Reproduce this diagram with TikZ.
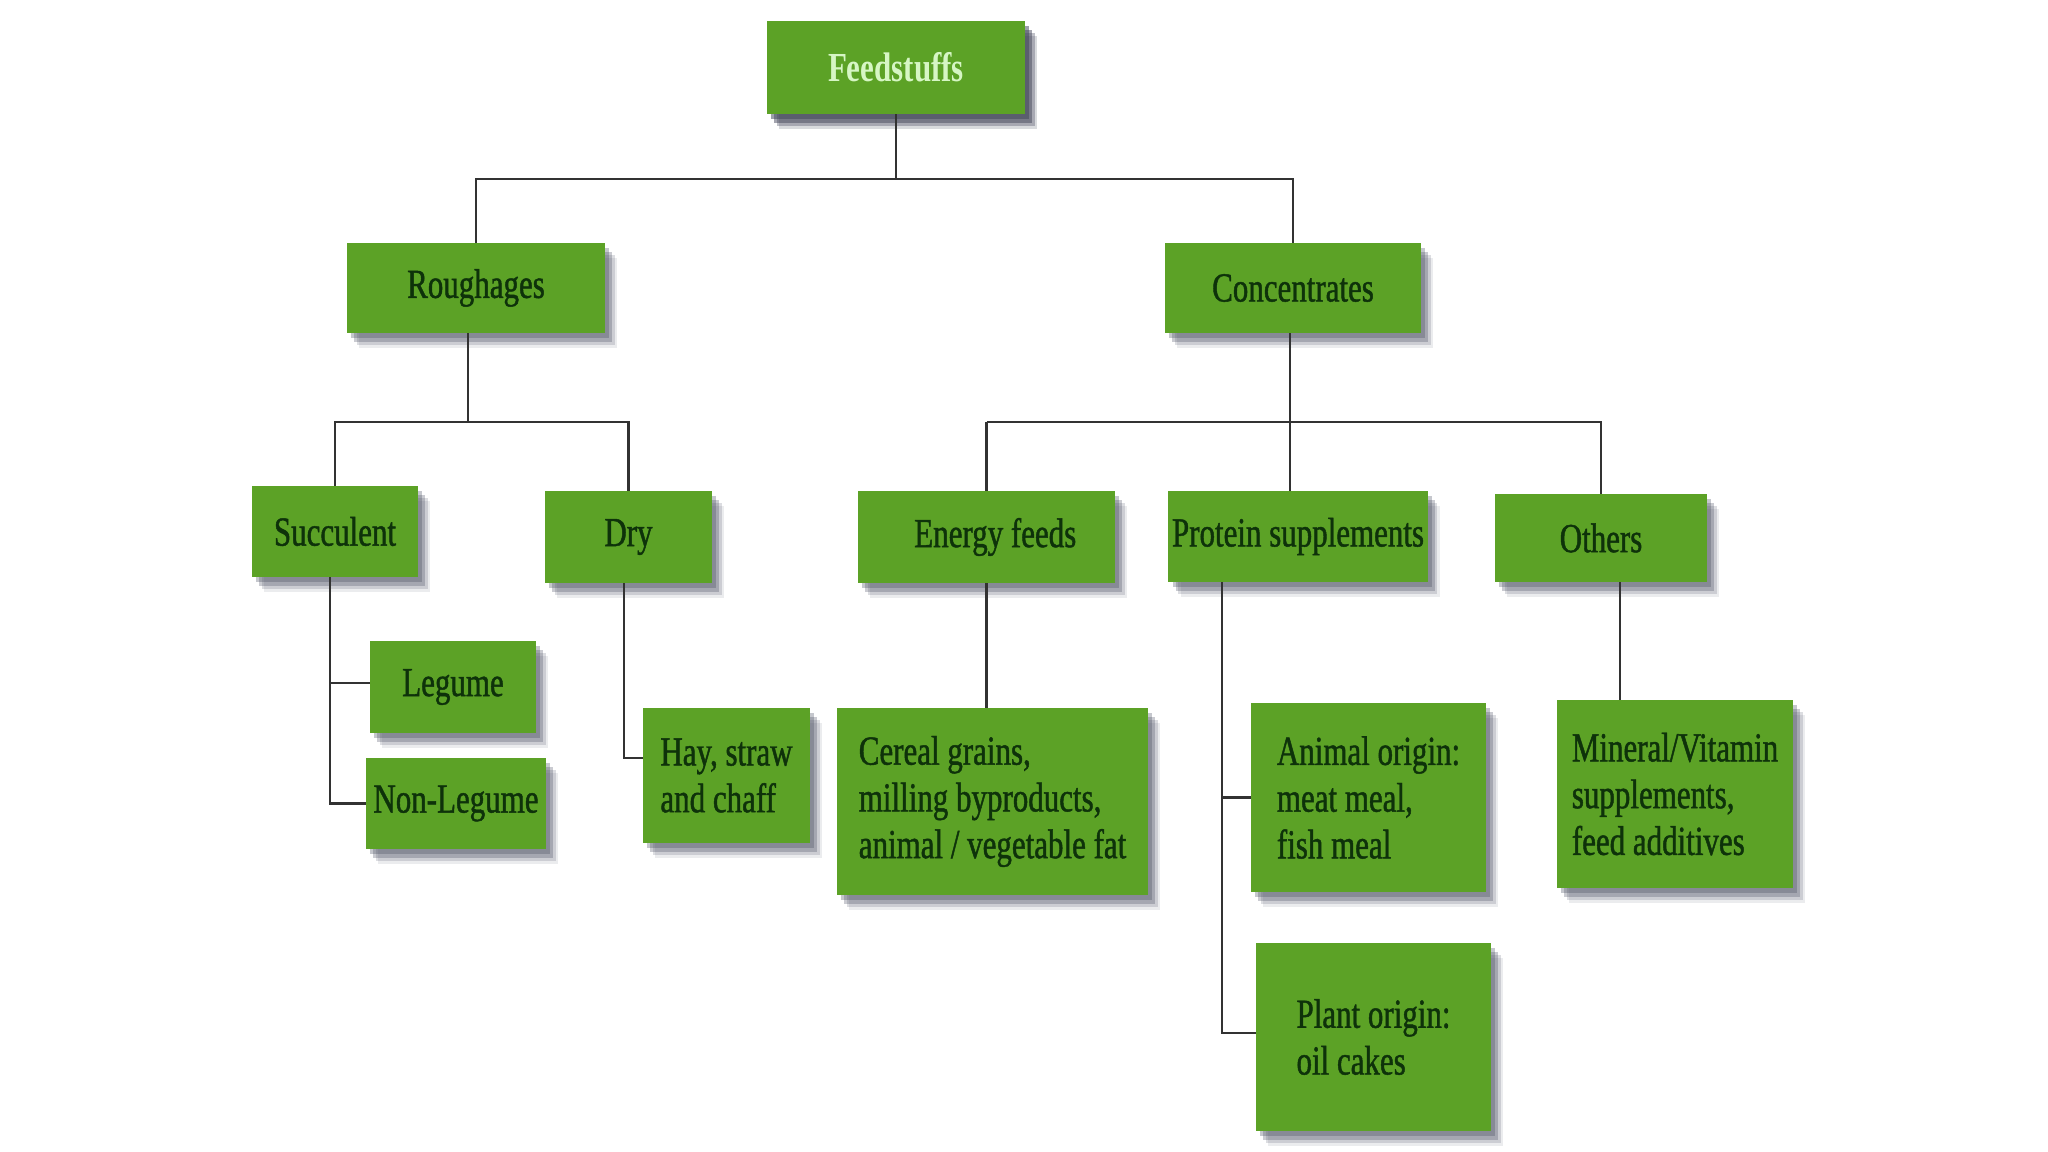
\documentclass[tikz,border=0pt]{standalone}
\usepackage{fontspec}
\newfontfamily\boxfont[FakeStretch=0.75,FakeBold=1.1]{Liberation Serif}
\newfontfamily\titlefont[FakeStretch=0.75]{Liberation Serif Bold}
\usetikzlibrary{shadows}
\definecolor{boxgreen}{RGB}{92,162,38}
\definecolor{txtgreen}{RGB}{14,50,10}
\definecolor{titletxt}{RGB}{214,246,196}
\definecolor{shadowc}{RGB}{66,70,90}
\definecolor{linec}{RGB}{50,50,50}
\tikzset{
  box/.style={fill=boxgreen, draw=none, inner sep=2pt, text=txtgreen,
    font=\boxfont\fontsize{23.5}{26.6}\selectfont, align=left,
    drop shadow={shadow xshift=2.5pt,shadow yshift=-3pt,fill=shadowc,opacity=.3},
    drop shadow={shadow xshift=4pt,shadow yshift=-5pt,fill=shadowc,opacity=.28},
    drop shadow={shadow xshift=5.5pt,shadow yshift=-7pt,fill=shadowc,opacity=.18},
    drop shadow={shadow xshift=7pt,shadow yshift=-8.5pt,fill=shadowc,opacity=.1}},
  titlebox/.style={box, text=titletxt, font=\titlefont\fontsize{23.5}{26.6}\selectfont},
  conn/.style={draw=linec, line width=1.4pt}
}
\newcommand\gbox[7][]{\node[box,#1, minimum width={(#5-#3)*0.02cm}, minimum height={(#6-#4)*0.02cm}] (#2) at ({(#3+#5)/2},{(#4+#6)/2}) {#7};}
\begin{document}
\begin{tikzpicture}[x=0.02cm, y=-0.02cm]
\path[use as bounding box, fill=white] (0,0) rectangle (2048,1152);

% boxes
\gbox[titlebox]{feed}{767}{21}{1025}{114}{Feedstuffs}
\gbox{rough}{347}{243}{605}{333}{Roughages}
\gbox{conc}{1165}{243}{1421}{333}{Concentrates}
\gbox{succ}{252}{486}{418}{577}{Succulent}
\gbox{dry}{545}{491}{712}{583}{Dry}
\gbox{leg}{370}{641}{536}{733}{Legume}
\gbox{nonleg}{366}{758}{546}{849}{Non-Legume}
\gbox{hay}{643}{708}{810}{843}{Hay, straw\\and chaff}
\gbox{energy}{858}{491}{1115}{583}{\hspace*{10pt}Energy feeds}
\gbox{protein}{1169}{491}{1427}{582}{Protein supplements}
\gbox{others}{1495}{494}{1707}{582}{Others}
\gbox{cereal}{837}{708}{1148}{895}{Cereal grains,\\milling byproducts,\\animal / vegetable fat}
\gbox{animal}{1251}{703}{1486}{892}{Animal origin:\\meat meal,\\fish meal}
\gbox{plant}{1256}{943}{1491}{1131}{Plant origin:\\oil cakes}
\gbox{mineral}{1557}{700}{1793}{888}{Mineral/Vitamin\\supplements,\\feed additives}

% junction coordinates
\coordinate (j1) at (896,179);
\coordinate (j2) at (468,422);
\coordinate (j3) at (1290,422);
\coordinate (s1) at (330,683);
\coordinate (d1) at (624,758);
\coordinate (p1) at (1222,1033);
\coordinate (o1) at (1620,0);

% connectors
\draw[conn] (feed.south) -- (j1);
\draw[conn] (rough.north) |- (j1) -| (conc.north);
\draw[conn] (j2 |- rough.south) -- (j2);
\draw[conn] (succ.north) |- (j2) -| (dry.north);
\draw[conn] (s1 |- succ.south) |- (nonleg.west);
\draw[conn] (s1) -- (s1 -| leg.west);
\draw[conn] (d1 |- dry.south) -- (d1) -- (d1 -| hay.west);
\draw[conn] (j3 |- conc.south) -- (j3 |- protein.north);
\draw[conn] (j3 -| energy.north) -- (energy.north);
\draw[conn] (energy.north |- j3) -- (j3) -| (others.north);
\draw[conn] (energy.south) -- (energy.south |- cereal.north);
\draw[conn] (p1 |- protein.south) -- (p1) -- (p1 -| plant.west);
\draw[conn] (p1 |- animal.west) -- (animal.west);
\draw[conn] (o1 |- others.south) -- (o1 |- mineral.north);
\end{tikzpicture}
\end{document}
